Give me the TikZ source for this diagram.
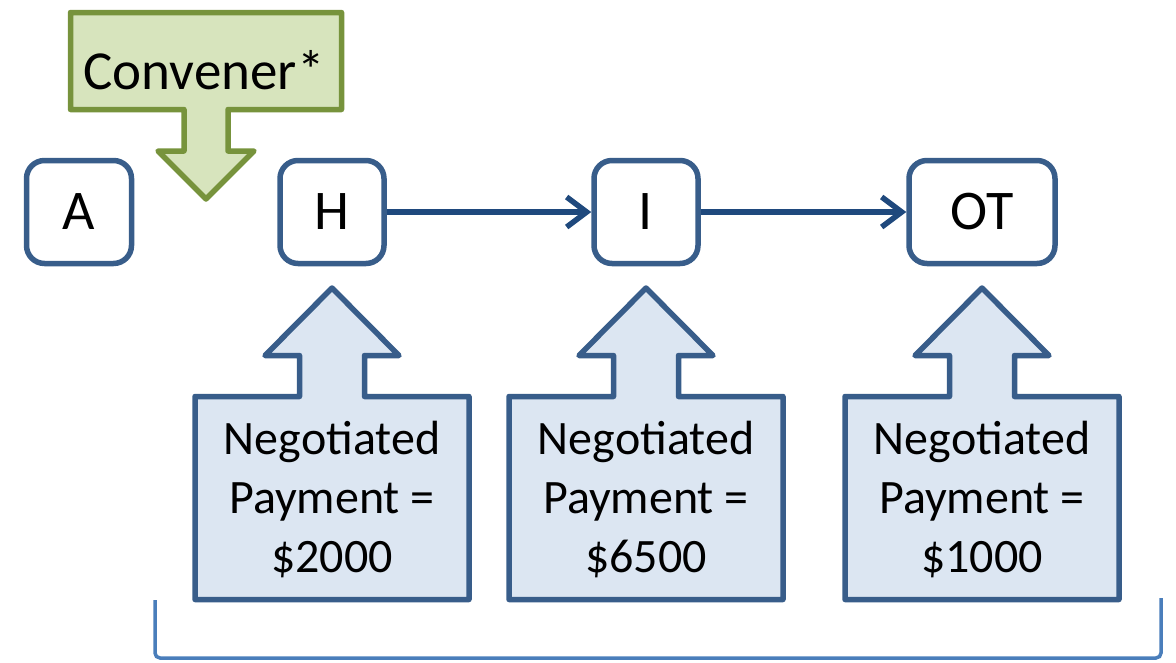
\documentclass[tikz,border=0pt]{standalone}
\usepackage{fontspec}
\setmainfont{Carlito}
\usetikzlibrary{arrows.meta}

\definecolor{boxline}{HTML}{385D8A}
\definecolor{linkline}{HTML}{1F497D}
\definecolor{payfill}{HTML}{DCE6F2}
\definecolor{convfill}{HTML}{D7E4BD}
\definecolor{convline}{HTML}{77933C}
\definecolor{braceline}{HTML}{4A7EBB}

\tikzset{
  party/.style={draw=boxline, line width=5.5pt, rounded corners=18pt, fill=white,
    inner sep=0pt, minimum height=103pt, font=\fontsize{56}{60}\selectfont},
  link/.style={draw=linkline, line width=5.5pt, -{Straight Barb[length=20pt,width=30pt]}},
  payshape/.style={draw=boxline, fill=payfill, line width=5.5pt, line join=round},
  convshape/.style={draw=convline, fill=convfill, line width=5.5pt, line join=round},
  paytext/.style={align=center, inner sep=0pt, font=\fontsize{48}{59}\selectfont},
  bracket/.style={draw=braceline, line width=3.5pt, rounded corners=5pt}
}

\begin{document}
\begin{tikzpicture}[x=1pt,y=1pt]
\useasboundingbox (0,0) rectangle (1176,-662);

% convener callout pointing down
\draw[convshape] (70.5,-12.5) -- (341.5,-12.5) -- (341.5,-109.5) -- (228,-109.5)
  -- (228,-151) -- (254,-151) -- (206,-199) -- (158,-151) -- (184,-151)
  -- (184,-109.5) -- (70.5,-109.5) -- cycle;
\node[font=\fontsize{55}{60}\selectfont] (conv) at (204,-70) {Convener*};

% parties
\node[party, minimum width=105pt] (A) at (79,-212) {A};
\node[party, minimum width=104pt] (H) at (332,-212) {H};
\node[party, minimum width=104pt] (I) at (646,-212) {I};
\node[party, minimum width=146pt] (OT) at (982,-212) {OT};

\draw[link] (H) -- (I);
\draw[link] (I) -- (OT);

% payment callouts pointing up
\foreach \cx/\amt/\nm in {332/2000/payH, 646/6500/payI, 982/1000/payOT} {
  \draw[payshape] (\cx-137,-396.5) -- (\cx-32.5,-396.5) -- (\cx-32.5,-355.5)
    -- (\cx-67,-355.5) -- (\cx,-288) -- (\cx+67,-355.5) -- (\cx+32.5,-355.5)
    -- (\cx+32.5,-396.5) -- (\cx+137,-396.5) -- (\cx+137,-599.5)
    -- (\cx-137,-599.5) -- cycle;
  \node[paytext] (\nm) at (\cx,-499) {Negotiated\\Payment =\\\$\amt};
}

% bracket under the payments
\draw[bracket] (155,-600) -- (155,-658) -- (1161,-658) -- (1161,-598);
\end{tikzpicture}
\end{document}
